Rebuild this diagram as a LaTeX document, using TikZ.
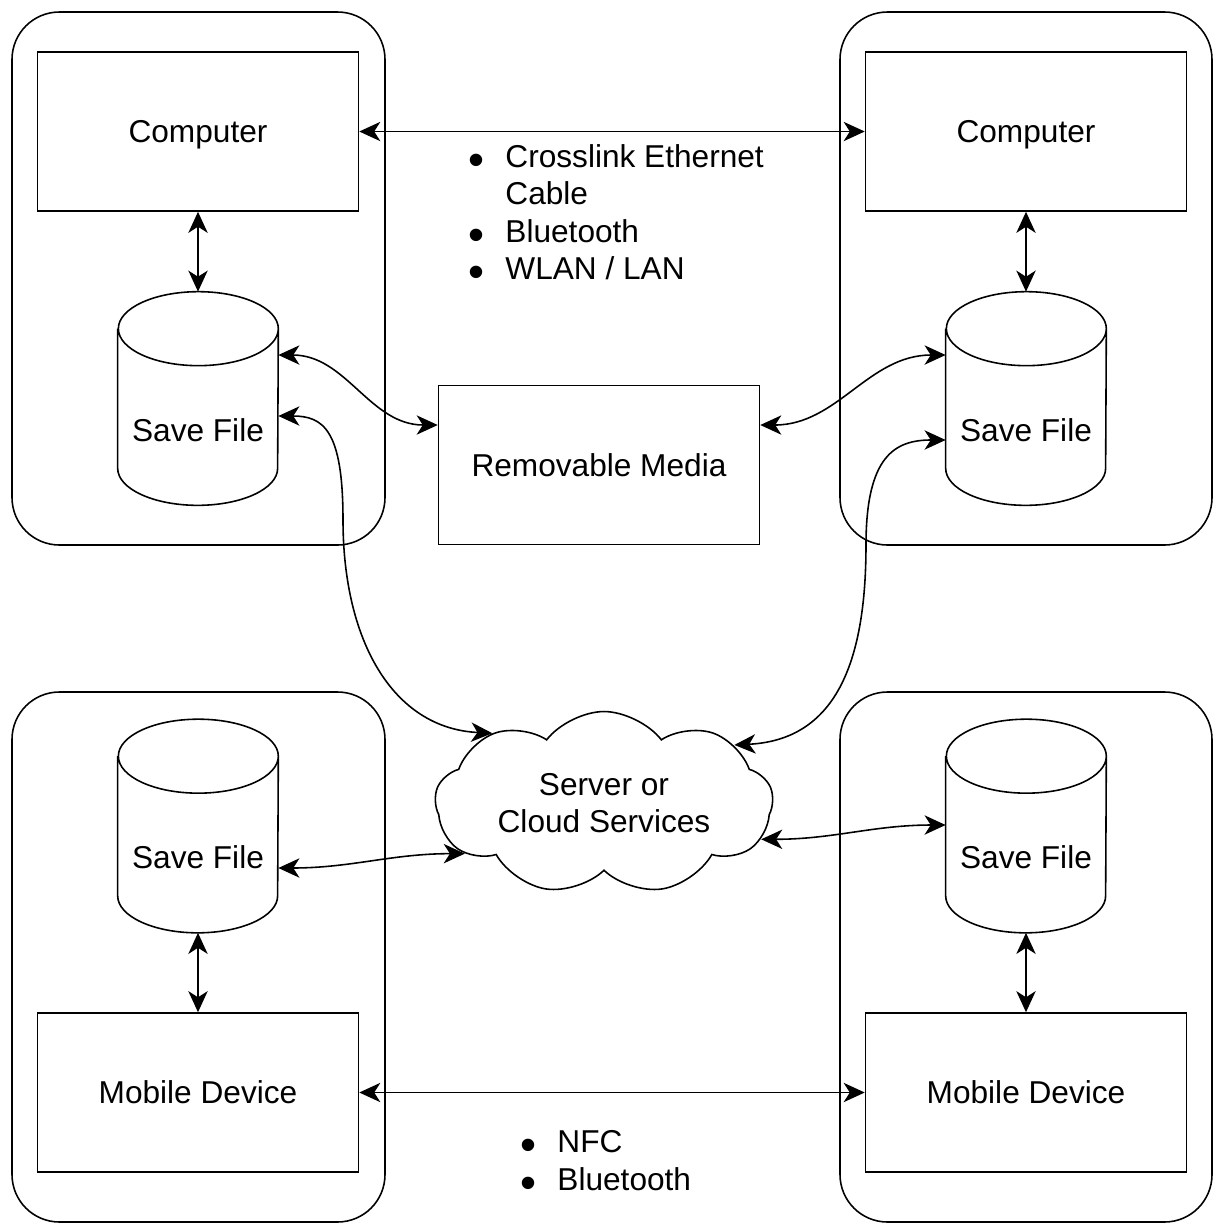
\documentclass[tikz,border=0pt]{standalone}
\usepackage{fontspec}
\setmainfont{Liberation Sans}
\usetikzlibrary{arrows.meta,shapes.symbols}

\tikzset{
  line/.style={line width=0.9pt},
  device/.style={line, draw, minimum width=6.42cm, minimum height=3.18cm, inner sep=0pt,
    text height=13pt, text depth=0pt},
  group/.style={line, draw, rounded corners=0.95cm},
  savefile/.style={minimum width=3.2cm, minimum height=4.26cm, inner sep=0pt,
    text height=1.7cm, text depth=0pt},
  link/.style={line, {Stealth[length=12pt,width=11pt,inset=3.5pt]}-{Stealth[length=12pt,width=11pt,inset=3.5pt]}},
  every node/.style={font=\fontsize{18}{21.3}\selectfont}
}
\newcommand{\listdot}{\smash{\raisebox{-4.5pt}{\fontsize{26}{21.3}\selectfont\textbullet}}}

\begin{document}
\begin{tikzpicture}[x=0.02cm,y=-0.02cm]
% Parameters
\def\cap{0.74cm}
\def\rx{1.6cm}

\useasboundingbox (0,0) rectangle (1214,1225);

% Groups
\draw[group] (12,12) rectangle (385,545);
\draw[group] (840,12) rectangle (1212,545);
\draw[group] (12,692) rectangle (385,1222);
\draw[group] (840,692) rectangle (1212,1222);

% Computers and mobile devices
\node[device] (pca) at (198,131.5) {Computer};
\node[device] (pcb) at (1026,131.5) {Computer};
\node[device] (moba) at (198,1092.5) {Mobile Device};
\node[device] (mobb) at (1026,1092.5) {Mobile Device};
\node[device] (media) at (599,465) {Removable Media};

% Save files
\node[savefile] (sfa) at (198,398.5) {Save File};
\node[savefile] (sfb) at (1026,398.5) {Save File};
\node[savefile] (sfc) at (198,826) {Save File};
\node[savefile] (sfd) at (1026,826) {Save File};
\foreach \s in {sfa,sfb,sfc,sfd}{
  \draw[line] ([yshift=-\cap]\s.north west) -- ([yshift=\cap]\s.south west)
    arc[start angle=180,end angle=360,x radius=\rx,y radius=\cap]
    -- ([yshift=-\cap]\s.north east)
    arc[start angle=0,end angle=360,x radius=\rx,y radius=\cap];
}

% Cloud
\node[cloud, line, draw, cloud puffs=9, cloud puff arc=105, aspect=1.85,
  minimum width=6.76cm, minimum height=3.66cm, inner xsep=-0.3cm, inner ysep=-0.3cm,
  align=center] (cloud) at (604,803) {Server or\\Cloud Services};

% Links
\draw[link] (pca) -- (pcb);
\draw[link] (moba) -- (mobb);
\draw[link] (pca) -- (sfa);
\draw[link] (pcb) -- (sfb);
\draw[link] (sfc) -- (moba);
\draw[link] (sfd) -- (mobb);

\draw[link] ([yshift=0.87cm]sfa.east) to[out=0,in=180] ([yshift=0.8cm]media.west);
\draw[link] ([yshift=0.87cm]sfb.west) to[out=180,in=0] ([yshift=0.8cm]media.east);

\draw[link] ([yshift=-0.35cm]sfa.east) .. controls +(45,0) and +(0,-90) .. (343,520)
  .. controls +(0,120) and +(-100,-5) .. (cloud.148);
\draw[link] ([yshift=-0.83cm]sfb.west) .. controls +(-50,0) and +(0,-90) .. (866,545)
  .. controls +(0,120) and +(100,-5) .. (cloud.24);

\draw[link] ([yshift=-0.84cm]sfc.east) to[out=0,in=180] (cloud.200);
\draw[link] ([yshift=0.02cm]sfd.west) to[out=180,in=0] (cloud.-13);

% Connection types
\node[anchor=west, inner sep=0pt] (wired) at (468,216) {%
  \begin{tabular}{@{}l@{\hspace{12pt}}l@{}}
  \listdot & Crosslink Ethernet\\
           & Cable\\
  \listdot & Bluetooth\\
  \listdot & WLAN / LAN
  \end{tabular}};
\node[anchor=west, inner sep=0pt] (mobile) at (520,1164) {%
  \begin{tabular}{@{}l@{\hspace{12pt}}l@{}}
  \listdot & NFC\\
  \listdot & Bluetooth
  \end{tabular}};
\end{tikzpicture}
\end{document}
